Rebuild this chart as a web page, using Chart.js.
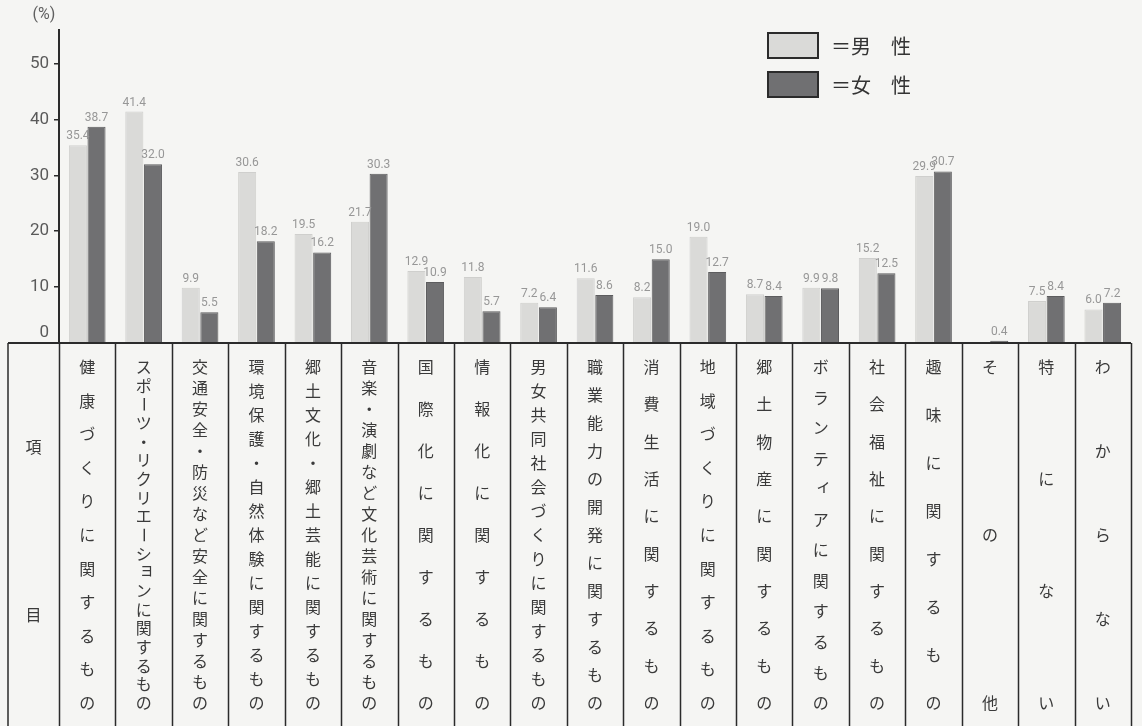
<!DOCTYPE html>
<html lang="ja">
<head>
<meta charset="utf-8">
<script src="https://cdn.jsdelivr.net/npm/chart.js@4/dist/chart.umd.min.js"></script>
<style>
  html, body { margin: 0; padding: 0; background: #f5f5f3; }
  canvas { display: block; }
</style>
</head>
<body>
<canvas id="interestChart" width="1142" height="726"></canvas>
<script>
const canvas = document.getElementById("interestChart");

// 学習したい項目（男女別, %）
const categories = [
    '健康づくりに関するもの',
    'スポーツ・リクリエーションに関するもの',
    '交通安全・防災など安全に関するもの',
    '環境保護・自然体験に関するもの',
    '郷土文化・郷土芸能に関するもの',
    '音楽・演劇など文化芸術に関するもの',
    '国際化に関するもの',
    '情報化に関するもの',
    '男女共同社会づくりに関するもの',
    '職業能力の開発に関するもの',
    '消費生活に関するもの',
    '地域づくりに関するもの',
    '郷土物産に関するもの',
    'ボランティアに関するもの',
    '社会福祉に関するもの',
    '趣味に関するもの',
    'その他',
    '特にない',
    'わからない'
];
const maleData = [35.4, 41.4, 9.9, 30.6, 19.5, 21.7, 12.9, 11.8, 7.2, 11.6, 8.2, 19.0, 8.7, 9.9, 15.2, 29.9, null, 7.5, 6.0];
const femaleData = [38.7, 32.0, 5.5, 18.2, 16.2, 30.3, 10.9, 5.7, 6.4, 8.6, 15.0, 12.7, 8.4, 9.8, 12.5, 30.7, 0.4, 8.4, 7.2];
const yTicks = [0, 10, 20, 30, 40, 50];
const legendLabels = ['＝男　性', '＝女　性'];

const maleColor = '#dadad8';
const femaleColor = '#707072';
const lineColor = '#2b2b2b';
const jpFont = '"Noto Sans CJK JP", sans-serif';
const numFont = '"Liberation Sans Narrow", Roboto, sans-serif';

// small kana sit up and to the right in vertical text
const smallKana = 'ッョィャュァェォ';

function drawVertical(ctx, text, cx, top, bottom) {
    const chars = Array.from(text);
    const step = chars.length > 1 ? (bottom - top) / (chars.length - 1) : 0;
    chars.forEach((ch, k) => {
        ctx.save();
        ctx.translate(cx, top + k * step);
        if (ch === 'ー') {
            ctx.rotate(Math.PI / 2);
        } else if (smallKana.includes(ch)) {
            ctx.translate(3, -3);
        }
        ctx.fillText(ch, 0, 0);
        ctx.restore();
    });
}

// values above each bar
const valueLabels = {
    id: 'valueLabels',
    afterDatasetsDraw(chart) {
        const ctx = chart.ctx;
        ctx.save();
        ctx.font = '12px Roboto, sans-serif';
        ctx.fillStyle = '#979797';
        ctx.textAlign = 'center';
        ctx.textBaseline = 'bottom';
        chart.data.datasets.forEach((ds, i) => {
            chart.getDatasetMeta(i).data.forEach((bar, j) => {
                const v = ds.data[j];
                if (v === null) return;
                ctx.fillText(v.toFixed(1), bar.x, bar.y - 3);
            });
        });
        ctx.restore();
    }
};

// item table under the axis, legend and unit
const itemTable = {
    id: 'itemTable',
    afterDraw(chart) {
        const ctx = chart.ctx;
        const area = chart.chartArea;
        const xs = chart.scales.x;
        const w = (area.right - area.left) / categories.length;
        const top = area.bottom;
        const bottom = chart.height;
        const tableLeft = 8;

        ctx.save();
        ctx.strokeStyle = lineColor;

        ctx.lineWidth = 2;
        ctx.beginPath();
        ctx.moveTo(tableLeft, top);
        ctx.lineTo(area.right, top);
        ctx.stroke();

        ctx.lineWidth = 1.5;
        ctx.beginPath();
        ctx.moveTo(tableLeft, top);
        ctx.lineTo(tableLeft, bottom);
        for (let i = 0; i <= categories.length; i++) {
            const x = Math.round(area.left + i * w) + 0.5;
            ctx.moveTo(x, top);
            ctx.lineTo(x, bottom);
        }
        ctx.stroke();

        ctx.fillStyle = '#3a3a3a';
        ctx.font = '16px ' + jpFont;
        ctx.textAlign = 'center';
        ctx.textBaseline = 'middle';
        categories.forEach((label, i) => {
            drawVertical(ctx, label, xs.getPixelForValue(i), top + 24, bottom - 23);
        });
        ctx.fillText('項', (tableLeft + area.left) / 2, 447);
        ctx.fillText('目', (tableLeft + area.left) / 2, 615);

        // legend
        const colors = [maleColor, femaleColor];
        ctx.lineWidth = 2;
        ctx.font = '20px ' + jpFont;
        ctx.textAlign = 'left';
        legendLabels.forEach((label, i) => {
            const y = 33 + i * 39;
            ctx.fillStyle = colors[i];
            ctx.fillRect(768, y, 50, 25);
            ctx.strokeRect(768, y, 50, 25);
            ctx.fillStyle = '#333';
            ctx.fillText(label, 831, y + 13);
        });

        // unit and zero label
        ctx.fillStyle = '#606060';
        ctx.font = '16px ' + numFont;
        ctx.textAlign = 'center';
        ctx.fillText('(%)', 44, 15);
        ctx.font = '17px ' + numFont;
        ctx.textAlign = 'right';
        ctx.fillStyle = '#5a5a5a';
        ctx.fillText('0', 49, 333);
        ctx.restore();
    }
};

const interestChart = new Chart(canvas, {
    type: 'bar',
    data: {
        labels: categories,
        datasets: [{
            label: '男性',
            data: maleData,
            backgroundColor: maleColor,
            borderColor: '#cfcfcd',
            borderWidth: 1,
            categoryPercentage: 0.66,
            barPercentage: 0.97
        }, {
            label: '女性',
            data: femaleData,
            backgroundColor: femaleColor,
            borderColor: '#5c5c5e',
            borderWidth: 1,
            categoryPercentage: 0.66,
            barPercentage: 0.97
        }]
    },
    options: {
        responsive: false,
        animation: false,
        devicePixelRatio: 1,
        layout: {
            padding: { left: 0, right: 11, top: 30, bottom: 383 }
        },
        plugins: {
            legend: { display: false },
            tooltip: { enabled: false }
        },
        scales: {
            x: {
                display: false
            },
            y: {
                min: 0,
                max: 56,
                afterBuildTicks(scale) {
                    scale.ticks = yTicks.filter(v => v > 0).map(v => ({ value: v }));
                },
                afterFit(scale) {
                    scale.width = 59;
                },
                border: { display: true, color: lineColor, width: 2 },
                grid: {
                    drawOnChartArea: false,
                    drawTicks: true,
                    tickLength: 5,
                    color: lineColor,
                    lineWidth: 1.5
                },
                ticks: {
                    padding: 5,
                    color: '#5a5a5a',
                    font: { family: numFont, size: 17 }
                }
            }
        }
    },
    plugins: [valueLabels, itemTable]
});
</script>
</body>
</html>
